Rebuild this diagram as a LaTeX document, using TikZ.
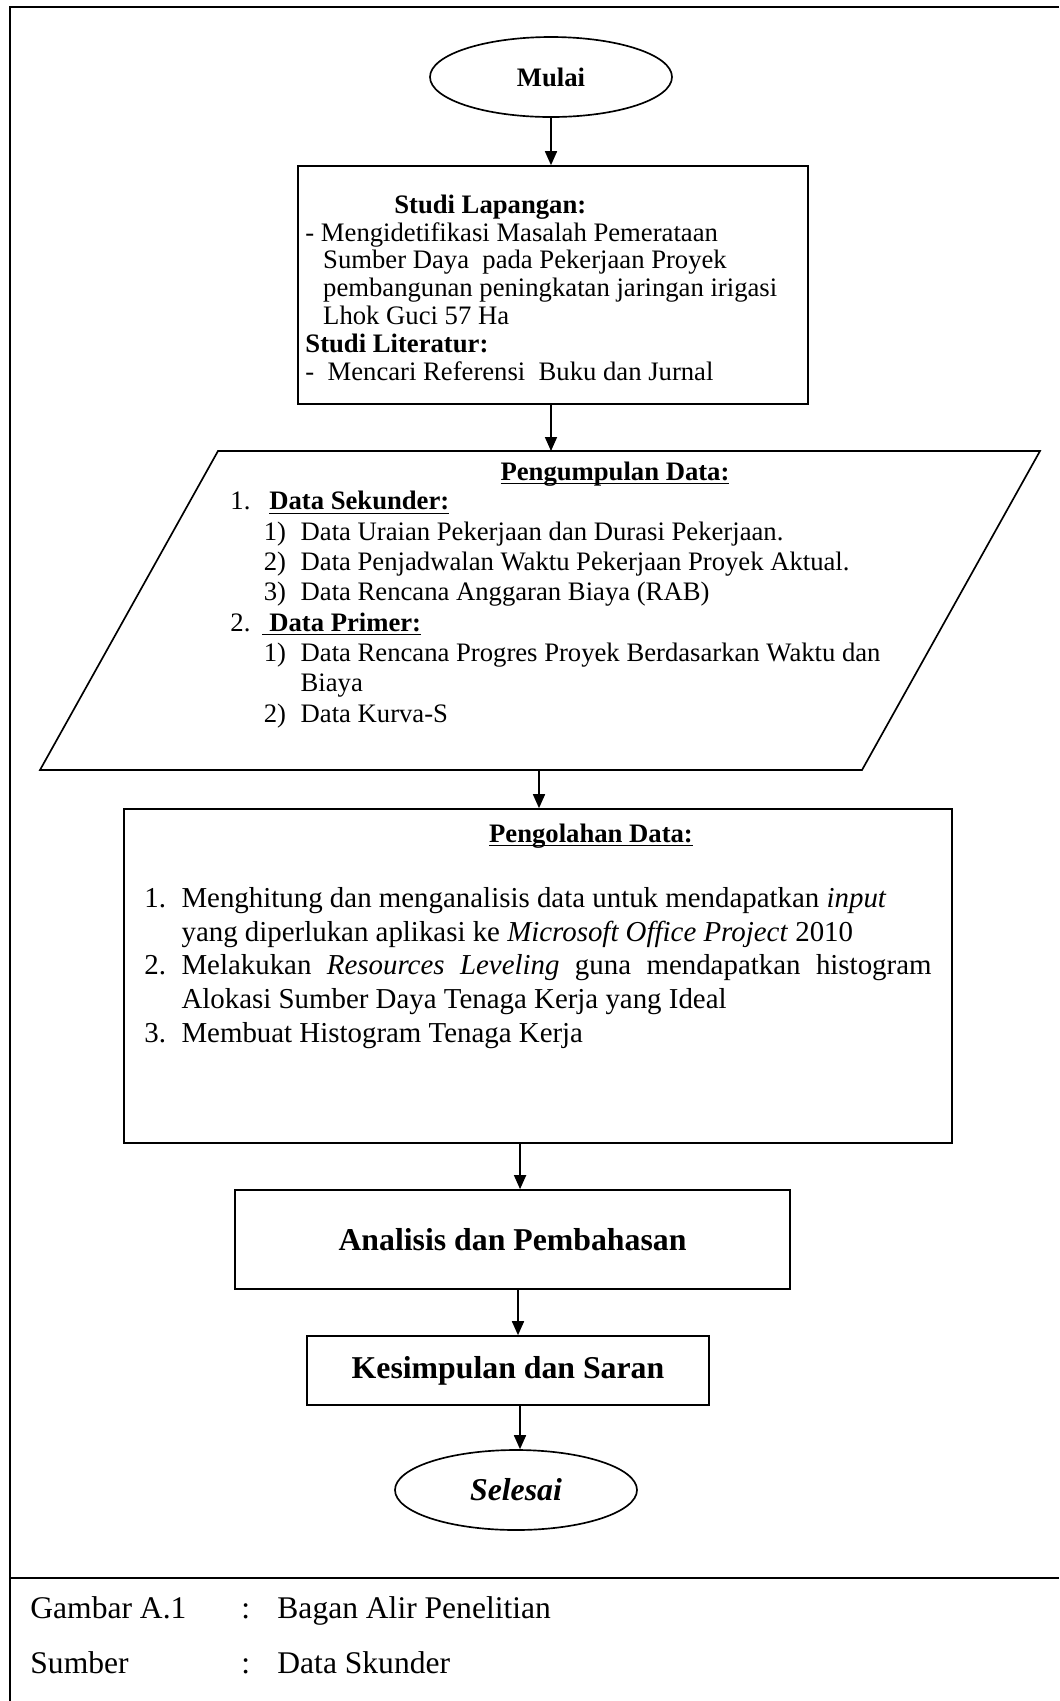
\documentclass[tikz,border=0pt]{standalone}
\usepackage{fontspec}
\setmainfont{Liberation Serif}
\usetikzlibrary{shapes.geometric,arrows.meta}
\newlength\pix
\setlength\pix{0.45pt}
\newcommand\fs[2]{\fontsize{#1}{#2}\selectfont}
\newcommand\undl[1]{\underline{\smash{#1}}}

\begin{document}
\begin{tikzpicture}[x=0.45pt, y=-0.45pt,
    frame/.style={line width=1pt},
    box/.style={draw, line width=0.75pt, rectangle, inner sep=0pt},
    oval/.style={draw, line width=0.75pt, ellipse, inner sep=0pt, minimum width=242\pix, minimum height=80\pix},
    txt/.style={anchor=base west, inner sep=0pt, align=left},
    title/.style={anchor=base, inner sep=0pt, font=\fs{12}{14}\bfseries},
    arrow/.style={line width=0.75pt, -{Triangle[length=6.3pt,width=5.4pt]}}]

    % Page size
    \useasboundingbox (0,0) rectangle (1059,1701);

    % Frame and caption line
    \draw[frame] (1059,7) -- (10,7) -- (10,1701);
    \draw[frame] (10,1578) -- (1059,1578);

    % Start
    \node[oval, font=\fs{12}{14}\bfseries] (mulai) at (551,77) {Mulai};

    % Studi lapangan / literatur (text placed by its last baseline)
    \node[box, minimum width=510\pix, minimum height=238\pix] (studi) at (553,285) {};
    \node[txt, font=\fs{12}{12.5}] (studitxt) at (305,380) {\hspace*{40pt}\textbf{Studi Lapangan:}\\
        - Mengidetifikasi Masalah Pemerataan\\
        \hspace*{8pt}Sumber Daya\ \ pada Pekerjaan Proyek\\
        \hspace*{8pt}pembangunan peningkatan jaringan irigasi\\
        \hspace*{8pt}Lhok Guci 57 Ha\\
        \textbf{Studi Literatur:}\\
        -\ \ Mencari Referensi\ \ Buku dan Jurnal};

    % Pengumpulan data (parallelogram)
    \draw[line width=0.75pt] (218,451) -- (1040,451) -- (862,770) -- (40,770) -- cycle;
    \coordinate (kumpulin) at (551,451);
    \coordinate (kumpulout) at (539,770);
    \node[title] (kumpultitle) at (615,480) {\undl{Pengumpulan Data:}};
    \node[txt, font=\fs{12}{13.64}] (kumpultxt) at (230,722) {%
        \makebox[17.5pt][l]{1.}\undl{\textbf{Data Sekunder:}}\\
        \hspace*{15pt}\makebox[16.6pt][l]{1)}Data Uraian Pekerjaan dan Durasi Pekerjaan.\\
        \hspace*{15pt}\makebox[16.6pt][l]{2)}Data Penjadwalan Waktu Pekerjaan Proyek Aktual.\\
        \hspace*{15pt}\makebox[16.6pt][l]{3)}Data Rencana Anggaran Biaya (RAB)\\
        \makebox[14.4pt][l]{2.}\undl{\hspace{3.1pt}\textbf{Data Primer:}}\\
        \hspace*{15pt}\makebox[16.6pt][l]{1)}Data Rencana Progres Proyek Berdasarkan Waktu dan\\
        \hspace*{31.6pt}Biaya\\
        \hspace*{15pt}\makebox[16.6pt][l]{2)}Data Kurva-S};

    % Pengolahan data
    \node[box, minimum width=828\pix, minimum height=334\pix] (olah) at (538,976) {};
    \node[title] (olahtitle) at (591,842) {\undl{Pengolahan Data:}};
    \node[txt, font=\fs{13}{15.1}] (olahtxt) at (144,1042) {%
        \makebox[16.7pt][l]{1.}Menghitung dan menganalisis data untuk mendapatkan \textit{input}\\
        \hspace*{16.7pt}yang diperlukan aplikasi ke \textit{Microsoft Office Project} 2010\\
        \makebox[16.7pt][l]{2.}\makebox[337.5pt][s]{Melakukan \textit{Resources Leveling} guna mendapatkan histogram}\\
        \hspace*{16.7pt}Alokasi Sumber Daya Tenaga Kerja yang Ideal\\
        \makebox[16.7pt][l]{3.}Membuat Histogram Tenaga Kerja};

    % Analisis, kesimpulan, selesai
    \node[box, minimum width=555\pix, minimum height=99\pix, font=\fs{14.3}{16}\bfseries] (analisis) at (512.5,1239.5) {Analisis dan Pembahasan};
    \node[box, minimum width=402\pix, minimum height=69\pix, font=\fs{14.3}{16}\bfseries] (simpul) at (508,1370.5) {Kesimpulan dan Saran};
    \node[oval, font=\fs{14.3}{16}\bfseries\itshape] (selesai) at (516,1490) {Selesai};

    % Arrows
    \coordinate (a1) at ([xshift=3.4pt]analisis.north);
    \coordinate (k1) at ([xshift=4.5pt]simpul.north);
    \coordinate (s1) at ([xshift=1.8pt]selesai.north);
    \draw[arrow] (mulai.south) -- (mulai.south |- studi.north);
    \draw[arrow] (kumpulin |- studi.south) -- (kumpulin);
    \draw[arrow] (kumpulout) -- (kumpulout |- olah.north);
    \draw[arrow] (a1 |- olah.south) -- (a1);
    \draw[arrow] (k1 |- analisis.south) -- (k1);
    \draw[arrow] (s1 |- simpul.south) -- (s1);

    % Caption
    \node[txt, font=\fs{14.2}{16}] (gbr) at (30,1618) {Gambar A.1};
    \node[txt, font=\fs{14.2}{16}] (gbrsep) at (241,1618) {:};
    \node[txt, font=\fs{14.2}{16}] (gbrisi) at (277,1618) {Bagan Alir Penelitian};
    \node[txt, font=\fs{14.2}{16}] (sbr) at (30,1673) {Sumber};
    \node[txt, font=\fs{14.2}{16}] (sbrsep) at (241,1673) {:};
    \node[txt, font=\fs{14.2}{16}] (sbrisi) at (277,1673) {Data Skunder};

\end{tikzpicture}
\end{document}
